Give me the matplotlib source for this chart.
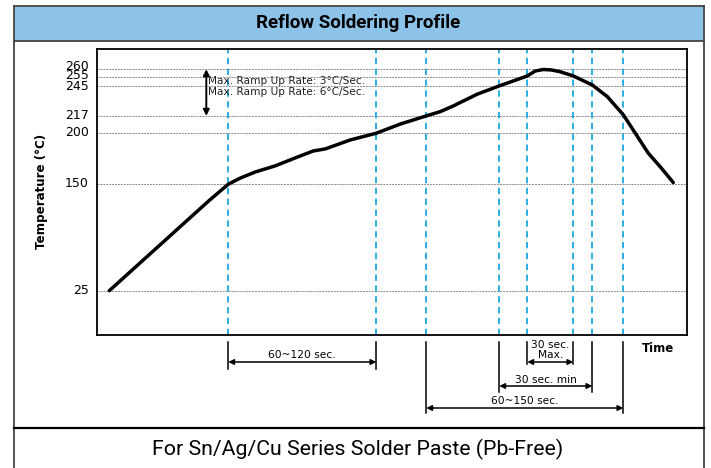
import numpy as np
import matplotlib
matplotlib.use("Agg")
import matplotlib.pyplot as plt
from matplotlib.transforms import blended_transform_factory, ScaledTranslation

W, H = 711, 468

# profile curve (time in arbitrary units, temperature in degC)
curve_t = [12, 112, 131, 143, 158, 178, 198, 216, 228, 253, 279, 303, 329, 343, 356,
           380, 402, 430, 438, 446, 454, 463, 476, 495, 510, 526, 536, 551, 563, 576]
curve_temp = [25, 131, 150, 156, 162, 168, 175.8, 182.6, 184.6, 193.4, 200, 209, 217, 221, 226.3,
              237.3, 245, 255.5, 258.8, 259.8, 259.5, 258.3, 255.5, 246, 235, 218, 203, 180.4, 167, 151.6]

temp_ticks = [25, 150, 200, 217, 245, 255, 260]
marker_t = [131, 279, 329, 402, 430, 476, 495, 526]

# time spans shown under the chart
span_labels = ["60~120 sec.", "30 sec.\nMax.", "30 sec. min", "60~150 sec."]
span_start = [131, 430, 402, 329]
span_end = [279, 476, 495, 526]

# piecewise temperature axis (the original is not drawn to a linear scale)
scale_temp = [-25, 25, 150, 200, 217, 245, 255, 260, 275]
scale_pos = [0, 44, 150.5, 201.5, 218.8, 248.8, 258, 265.5, 285.7]


def fwd(v):
    return np.interp(v, scale_temp, scale_pos)


def inv(v):
    return np.interp(v, scale_pos, scale_temp)


def fy(py):
    return 1 - py / H


fig = plt.figure(figsize=(W / 100, H / 100), dpi=100)

# outer frame + header + footer
frame = dict(color="#444444", lw=1.3, transform=fig.transFigure)
fig.patches.append(plt.Rectangle((14 / W, fy(41)), 690 / W, 35 / H, facecolor="#8dc3e9",
                                 edgecolor="none", transform=fig.transFigure))
fig.add_artist(plt.Line2D([14 / W, 704 / W], [fy(6), fy(6)], **frame))
fig.add_artist(plt.Line2D([14 / W, 704 / W], [fy(41), fy(41)], **frame))
fig.add_artist(plt.Line2D([14 / W, 14 / W], [fy(6), 0], **frame))
fig.add_artist(plt.Line2D([704 / W, 704 / W], [fy(6), 0], **frame))
fig.add_artist(plt.Line2D([14 / W, 704 / W], [fy(428), fy(428)], color="black", lw=1.6,
                          transform=fig.transFigure))
fig.text(358 / W, fy(23.5), "Reflow Soldering Profile", family="Roboto", weight="bold",
         fontsize=13.5, ha="center", va="center")
fig.text(358 / W, fy(449), "For Sn/Ag/Cu Series Solder Paste (Pb-Free)", family="Roboto",
         fontsize=15.3, ha="center", va="center")

ax = fig.add_axes([97.3 / W, fy(334.7), 589.4 / W, 285.7 / H])
ax.set_yscale("function", functions=(fwd, inv))
ax.set_xlim(0, 589.4)
ax.set_ylim(-25, 275)

for t in temp_ticks:
    ax.axhline(t, color="#8c8c8c", lw=0.7, ls=(0, (2, 1)), zorder=1)
for t in marker_t:
    ax.axvline(t, color="#1ba9e1", lw=1.3, ls=(0, (3.5, 2.5)), zorder=2)

ax.plot(curve_t, curve_temp, color="black", lw=2.5, solid_capstyle="round",
        solid_joinstyle="round", zorder=3)

ax.set_yticks(temp_ticks)
ax.set_yticklabels([str(t) for t in temp_ticks])
ax.set_xticks([])
ax.tick_params(axis="y", length=0, pad=6, labelsize=9)
lift = {25: 2, 150: 2, 200: 2, 217: 2, 245: 1, 255: 3, 260: 4}
for t, lab in zip(temp_ticks, ax.get_yticklabels()):
    lab.set_transform(lab.get_transform() + ScaledTranslation(0, lift[t] / 100, fig.dpi_scale_trans))
for s in ax.spines.values():
    s.set_linewidth(1.3)
ax.set_ylabel("Temperature (°C)", fontsize=8.6, weight="bold", labelpad=12)

# ramp-rate note
ax.annotate("", xy=(109, 217), xytext=(109, 260),
            arrowprops=dict(arrowstyle="<|-|>", color="black", lw=1.4, mutation_scale=9,
                            shrinkA=0, shrinkB=0))
ax.text(110.5, 250.5, "Max. Ramp Up Rate: 3°C/Sec.", fontsize=7.6, va="center", color="#222222")
ax.text(110.5, 239, "Max. Ramp Up Rate: 6°C/Sec.", fontsize=7.6, va="center", color="#222222")

# time spans under the plot
tr = blended_transform_factory(ax.transData, fig.transFigure)
span_bottom = [369, 364, 392, 413]
span_arrow = [362, 362, 386, 408]
span_text = [355, 350, 380, 401]
for lab, a, b, yb, ya, yt in zip(span_labels, span_start, span_end, span_bottom, span_arrow, span_text):
    for x in (a, b):
        fig.add_artist(plt.Line2D([x, x], [fy(342), fy(yb)], color="black", lw=1.1, transform=tr))
    ax.annotate("", xy=(a, fy(ya)), xytext=(b, fy(ya)), xycoords=tr, textcoords=tr,
                arrowprops=dict(arrowstyle="<|-|>", color="black", lw=1.1, mutation_scale=8,
                                shrinkA=0, shrinkB=0), annotation_clip=False)
    fig.text((a + b) / 2, fy(yt), lab, transform=tr, fontsize=7.7, ha="center", va="center",
             linespacing=0.9)

fig.text(658 / W, fy(348), "Time", fontsize=8.5, weight="bold", ha="center", va="center")

fig.savefig("out.png", dpi=100)
